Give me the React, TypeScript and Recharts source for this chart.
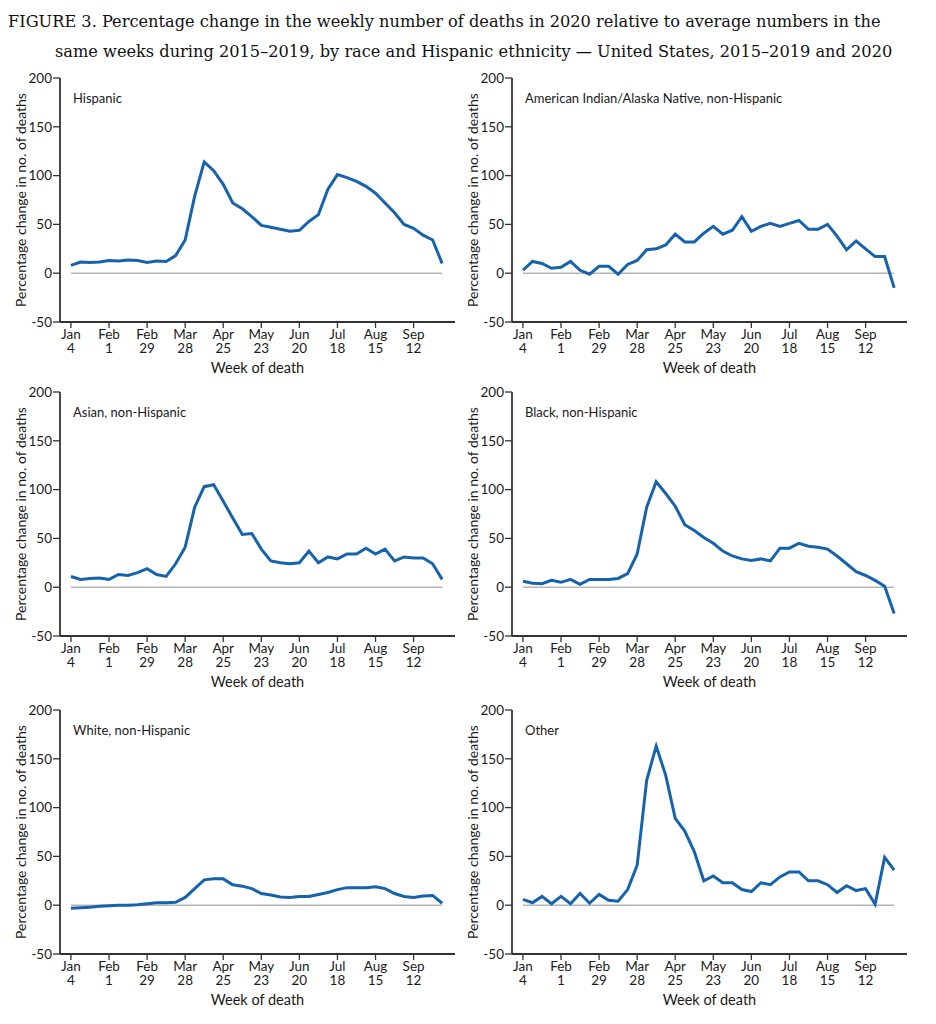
import React from "react";
import {
  LineChart,
  Line,
  XAxis,
  YAxis,
  ReferenceLine,
} from "recharts";

// week index 0 = Jan 4, ticks every 4 weeks
const tickWeeks = [0, 4, 8, 12, 16, 20, 24, 28, 32, 36];
const tickMonths = ["Jan", "Feb", "Feb", "Mar", "Apr", "May", "Jun", "Jul", "Aug", "Sep"];
const tickDays = ["4", "1", "29", "28", "25", "23", "20", "18", "15", "12"];
const yTicks = [-50, 0, 50, 100, 150, 200];

const hispanic = [
  8, 11.5, 11, 11.5, 13, 12.5, 13.5, 13, 11, 12.5, 12, 18, 34, 79, 114, 105, 91, 72, 66, 58,
  49, 47, 45, 43, 44, 53, 60, 86, 101, 98, 94, 89, 82, 72, 62, 50, 46, 39, 34, 10,
];
const aian = [
  3, 12, 10, 5, 6, 12, 3, -1, 7, 7, -1, 9, 13, 24, 25, 29, 40, 32, 32, 41,
  48, 40, 44, 58, 43, 48, 51, 48, 51, 54, 45, 45, 50, 38, 24, 33, 25, 17, 17, -15,
];
const asian = [
  11, 8, 9, 9.5, 8, 13, 12, 15, 19, 13, 11, 24, 41, 82, 103, 105, 88, 71, 54, 55,
  39, 27, 25, 24, 25, 37, 25, 31, 29, 34, 34, 40, 34, 39, 27, 31, 30, 30, 24, 8,
];
const black = [
  6, 4, 3.5, 7, 5, 8, 3, 8, 8, 8, 9, 14, 34, 82, 108, 96, 83, 64, 58, 51,
  45, 37, 32, 29, 27.5, 29, 27, 40, 40, 45, 42, 41, 39, 32, 24, 16, 12, 7, 1, -27,
];
const white = [
  -3, -2.5, -2, -1, -0.5, 0, 0, 0.5, 1.5, 2.5, 2.5, 3, 8, 17, 26, 27, 27, 21, 19.5, 17,
  12, 10.5, 8.5, 8, 9, 9, 11, 13, 16, 18, 18, 18, 19, 17, 12, 9, 8, 9.5, 10, 2,
];
const other = [
  6, 2.5, 9, 1.5, 9, 1.5, 12, 2, 11, 5, 4, 16, 41, 128, 163, 133, 89, 76, 55, 25,
  30, 23, 23, 16, 14, 23, 21, 29, 34, 34, 25, 25, 21, 13, 20, 15, 17, 1, 49, 36,
];

const panels = [
  { title: "Hispanic", values: hispanic, left: 0, top: 68 },
  { title: "American Indian/Alaska Native, non-Hispanic", values: aian, left: 452, top: 68 },
  { title: "Asian, non-Hispanic", values: asian, left: 0, top: 382 },
  { title: "Black, non-Hispanic", values: black, left: 452, top: 382 },
  { title: "White, non-Hispanic", values: white, left: 0, top: 700 },
  { title: "Other", values: other, left: 452, top: 700 },
];

const FONT = "Lato, 'Liberation Sans', sans-serif";
const BLUE = "#1763ab";
const FRAME = "#333";

function WeekTick(props: any) {
  const { x, y, payload } = props;
  const i = tickWeeks.indexOf(payload.value);
  return (
    <text x={x} y={y} textAnchor="middle" fill="#1a1a1a" fontSize={13.5} fontFamily={FONT}>
      <tspan x={x} dy={10}>{tickMonths[i]}</tspan>
      <tspan x={x} dy={14}>{tickDays[i]}</tspan>
    </text>
  );
}

function Panel({ title, values }: { title: string; values: number[] }) {
  const data = values.map((v, i) => ({ week: i, value: v }));
  return (
    <div style={{ position: "relative", width: 460, height: 312 }}>
      <LineChart
        width={460}
        height={312}
        data={data}
        margin={{ top: 10, right: 5, left: 0, bottom: 2 }}
      >
        <XAxis
          dataKey="week"
          type="number"
          domain={[-1.15, 40.35]}
          ticks={tickWeeks}
          tick={<WeekTick />}
          tickSize={6}
          tickMargin={1}
          height={56}
          axisLine={{ stroke: FRAME, strokeWidth: 1.8 }}
          tickLine={{ stroke: FRAME, strokeWidth: 1.3 }}
          interval={0}
          label={{
            value: "Week of death",
            position: "insideBottom",
            offset: 5,
            style: { fontSize: 14.5, fill: "#1a1a1a", fontFamily: FONT },
          }}
        />
        <XAxis
          xAxisId="top"
          orientation="top"
          type="number"
          domain={[-1.15, 40.35]}
          height={0}
          tick={false}
          tickLine={false}
          axisLine={{ stroke: FRAME, strokeWidth: 1.8 }}
        />
        <YAxis
          type="number"
          domain={[-50, 200]}
          ticks={yTicks}
          width={60}
          tickSize={7}
          tickMargin={1}
          interval={0}
          axisLine={{ stroke: FRAME, strokeWidth: 1.8 }}
          tickLine={{ stroke: FRAME, strokeWidth: 1.3 }}
          tick={{ fontSize: 13.5, fill: "#1a1a1a", fontFamily: FONT }}
          label={{
            value: "Percentage change in no. of deaths",
            angle: -90,
            position: "insideLeft",
            offset: 21,
            style: { textAnchor: "middle", fontSize: 14, fill: "#1a1a1a", fontFamily: FONT },
          }}
        />
        <YAxis
          yAxisId="right"
          orientation="right"
          type="number"
          domain={[-50, 200]}
          width={0}
          tick={false}
          tickLine={false}
          axisLine={{ stroke: FRAME, strokeWidth: 1.8 }}
        />
        <ReferenceLine
          segment={[
            { x: 0, y: 0 },
            { x: 39, y: 0 },
          ]}
          stroke="#b5b5b5"
          strokeWidth={1.5}
        />
        <Line
          type="linear"
          dataKey="value"
          stroke={BLUE}
          strokeWidth={3}
          dot={false}
          isAnimationActive={false}
        />
      </LineChart>
      <div
        style={{
          position: "absolute",
          left: 73,
          top: 22,
          fontFamily: FONT,
          fontSize: 13,
          color: "#1a1a1a",
        }}
      >
        {title}
      </div>
    </div>
  );
}

export default function App() {
  return (
    <div
      style={{
        position: "absolute",
        left: 0,
        top: 0,
        width: 936,
        height: 1024,
        background: "#fff",
      }}
    >
      <div
        style={{
          position: "absolute",
          left: 8,
          top: 7,
          width: 920,
          fontFamily: "'DejaVu Serif', serif",
          fontSize: 16.2,
          lineHeight: "30px",
          color: "#111",
          whiteSpace: "nowrap",
        }}
      >
        <div>
          FIGURE 3. Percentage change in the weekly number of deaths in 2020 relative to average
          numbers in the
        </div>
        <div style={{ paddingLeft: 47 }}>
          same weeks during 2015–2019, by race and Hispanic ethnicity — United States, 2015–2019 and
          2020
        </div>
      </div>
      {panels.map((p) => (
        <div key={p.title} style={{ position: "absolute", left: p.left, top: p.top }}>
          <Panel title={p.title} values={p.values} />
        </div>
      ))}
    </div>
  );
}
